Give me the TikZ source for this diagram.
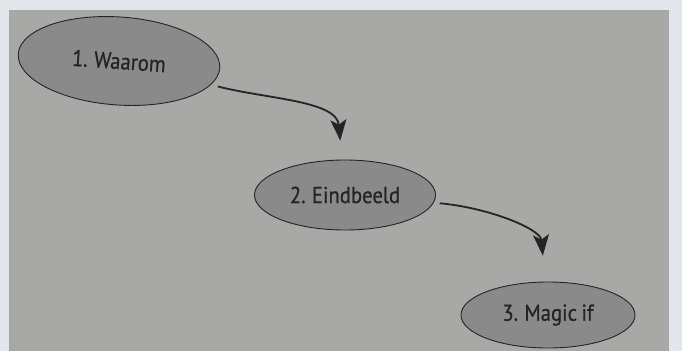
\documentclass[tikz,border=0pt]{standalone}
\usepackage{fontspec}
\setmainfont[FakeStretch=0.9,FakeBold=0.7,WordSpace=0.8]{PT Sans}
\usetikzlibrary{arrows.meta,shapes.geometric}
\definecolor{outside}{RGB}{226,230,235}
\definecolor{page}{RGB}{168,168,166}
\definecolor{bubble}{RGB}{138,138,138}
\definecolor{ink}{RGB}{36,36,38}
\tikzset{
  bubblebox/.style={ellipse, draw=ink, line width=0.9pt, fill=bubble, inner sep=0pt, font=\fontsize{23}{26}\selectfont, text=ink},
  flow/.style={draw=ink, line width=1.8pt, -{Stealth[length=21pt,width=16pt,inset=5pt]}}
}
\begin{document}
\begin{tikzpicture}[x=1pt,y=-1pt]
\useasboundingbox (0,0) rectangle (682,351);
\fill[outside] (0,0) rectangle (682,351);
\fill[page] (9,10) rectangle (669,351);
\node[bubblebox, minimum width=202pt, minimum height=88pt, rotate=-4] (e1) at (119,61) {1. Waarom};
\node[bubblebox, minimum width=181pt, minimum height=70pt] (e2) at (345,195) {2. Eindbeeld};
\node[bubblebox, minimum width=174pt, minimum height=66pt] (e3) at (548,315) {3. Magic if};
\draw[flow, shorten <=7pt, shorten >=19pt] (e1) to[out=-12,in=95] (e2);
\draw[flow, shorten <=6pt, shorten >=26pt] (e2) to[out=-5,in=95] (e3);
\end{tikzpicture}
\end{document}
